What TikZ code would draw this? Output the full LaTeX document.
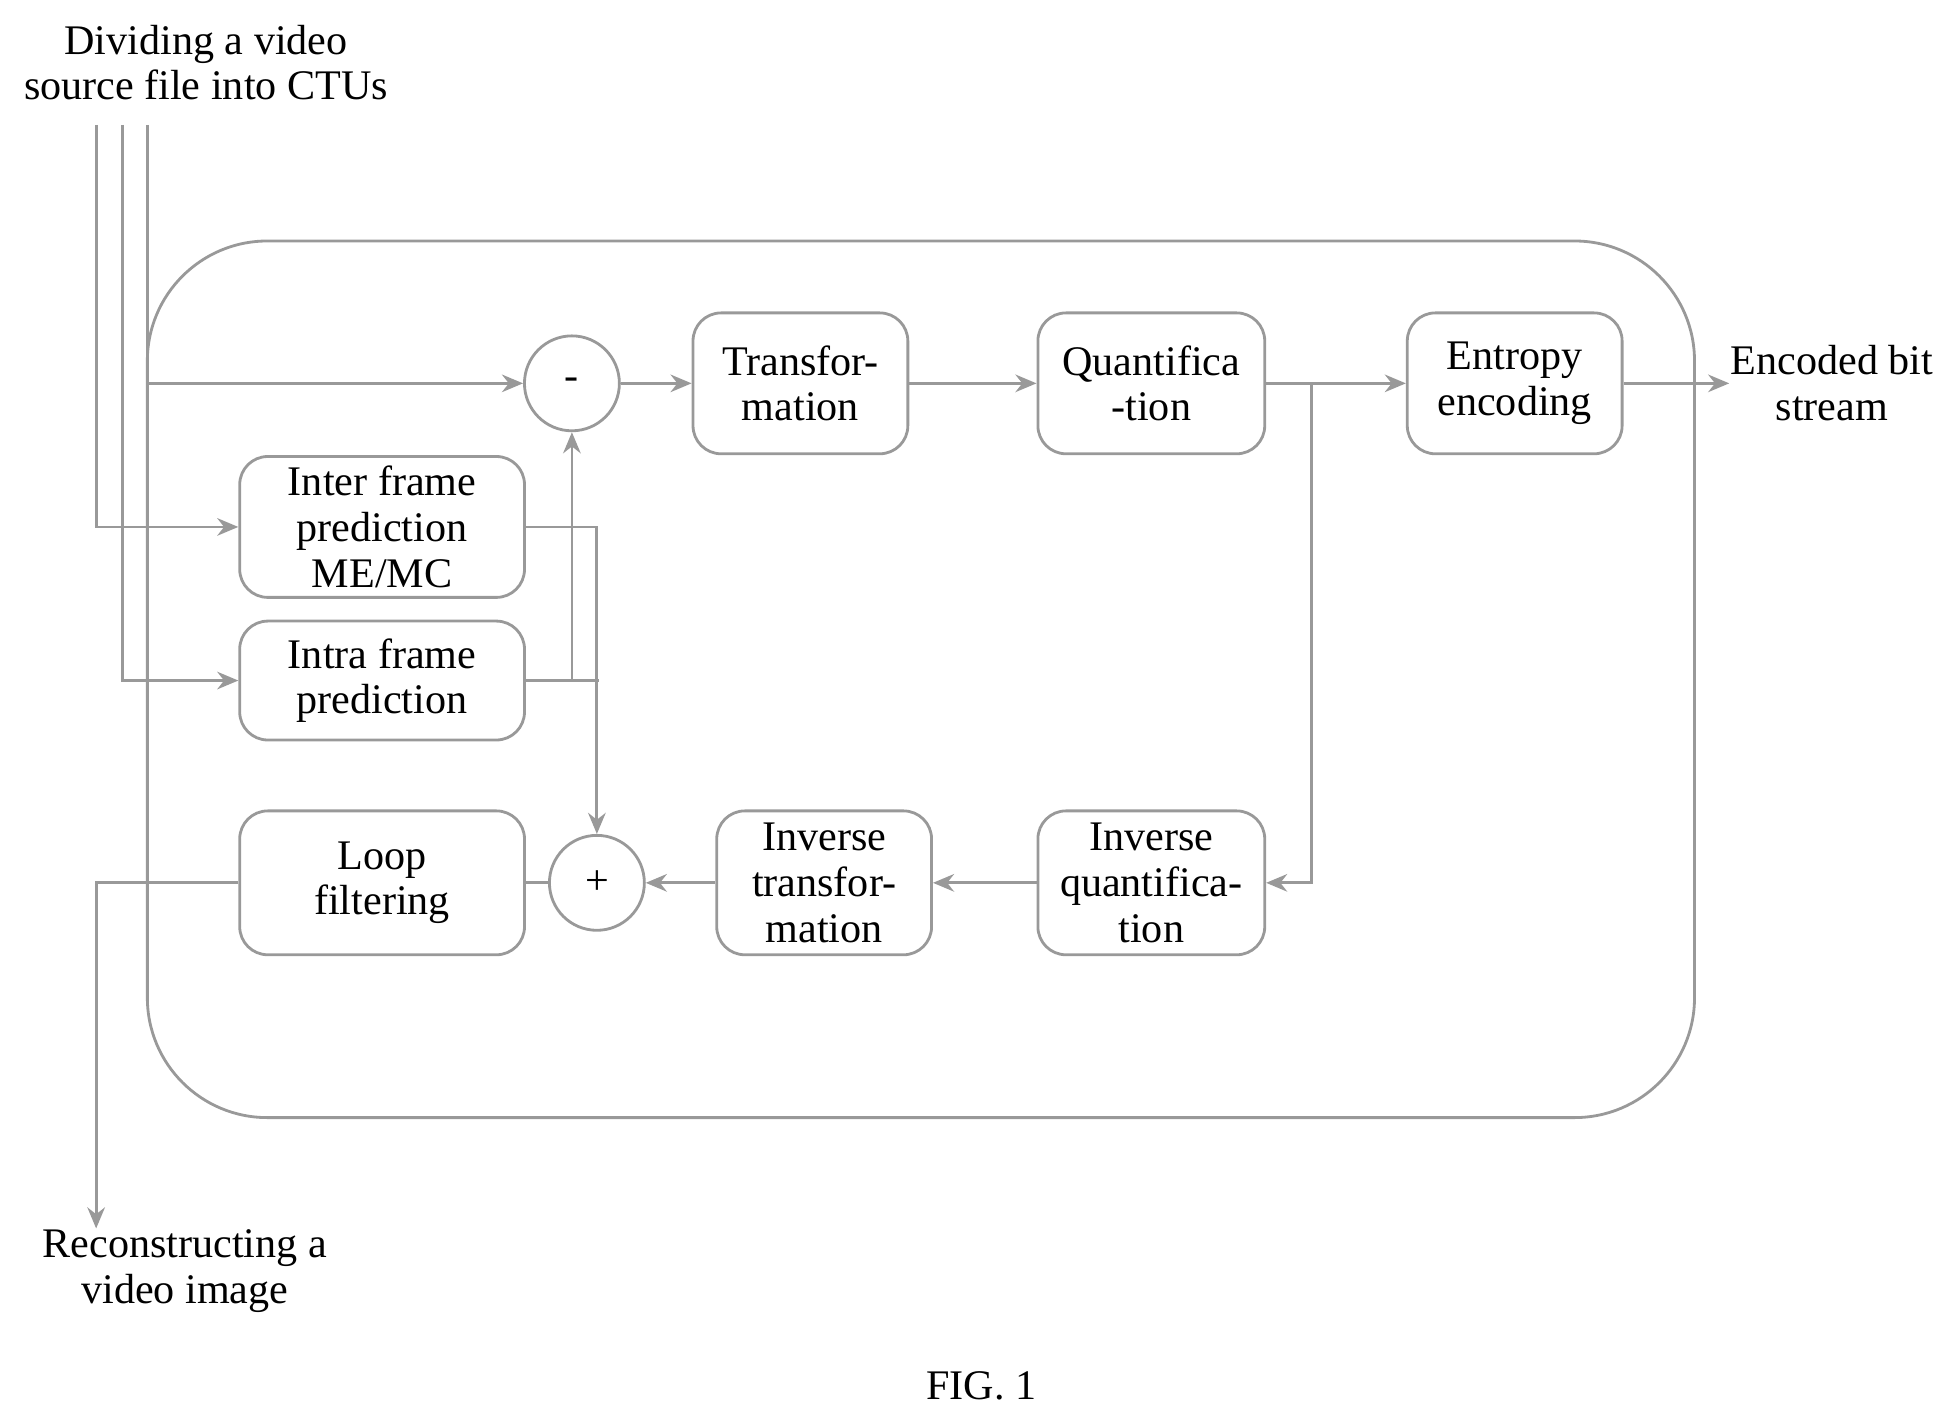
\documentclass[tikz,border=0pt]{standalone}
\usepackage{fontspec}
\setmainfont{Liberation Serif}
\usetikzlibrary{arrows.meta, positioning}

\begin{document}
\begin{tikzpicture}[x=0.0125cm, y=-0.0125cm, line width=0.8pt, draw=gray!80,
	font=\fontsize{12}{13}\selectfont,
	box/.style={draw=gray!80, rounded corners=8pt, align=center, inner sep=0pt},
	sum/.style={draw=gray!80, circle, minimum size=0.95cm, inner sep=0pt},
	txt/.style={align=center, inner sep=0pt},
	>={Stealth[length=6pt, width=5pt]}]
	\useasboundingbox (0,0) rectangle (1568,1140);
	% outer frame
	\draw[gray!80, rounded corners=1.2cm] (118,193) rectangle (1357,895);
	% text
	\node[txt] (src)  at (165,50)   {Dividing a video\\source file into CTUs};
	\node[txt] (out)  at (1467,307) {Encoded bit\\stream};
	\node[txt] (rec)  at (148,1018) {Reconstructing a\\video image};
	\node[txt] (fig)  at (786,1110) {FIG. 1};
	% blocks
	\node[sum] (minus) at (458,307) {-};
	\node[box, minimum width=2.15cm, minimum height=1.41cm] (trans) at (641,307) {Transfor-\\mation};
	\node[box, minimum width=2.27cm, minimum height=1.41cm] (quant) at (922,307) {Quantifica\\-tion};
	\node[box, minimum width=2.15cm, minimum height=1.41cm] (entr)  at (1213,307) {Entropy\\encoding};
	\node[box, minimum width=2.85cm, minimum height=1.41cm] (inter) at (306,422) {Inter frame\\prediction\\ME/MC};
	\node[box, minimum width=2.85cm, minimum height=1.19cm] (intra) at (306,545) {Intra frame\\prediction};
	\node[box, minimum width=2.85cm, minimum height=1.44cm] (loop)  at (306,707) {Loop\\filtering};
	\node[sum] (plus) at (478,707) {+};
	\node[box, minimum width=2.15cm, minimum height=1.44cm] (itrans) at (660,707) {Inverse\\transfor-\\mation};
	\node[box, minimum width=2.27cm, minimum height=1.44cm] (iquant) at (922,707) {Inverse\\quantifica-\\tion};
	\coordinate (br) at (1050,307);
	\coordinate (in1) at (77,100);
	\coordinate (in2) at (98,100);
	\coordinate (in3) at (118,100);
	% connectors
	\draw[->] (in1) |- (inter);
	\draw[->] (in2) |- (intra);
	\draw[->] (in3) |- (minus);
	\draw[->] (minus) -- (trans);
	\draw[->] (trans) -- (quant);
	\draw[->] (quant) -- (entr);
	\draw[->] (entr) -- (out.west);
	\draw[->] (br) |- (iquant);
	\draw[->] (intra.east) -| (minus);
	\draw (intra.east) -- (480,545);
	\draw[->] (inter.east) -| (plus);
	\draw[->] (iquant) -- (itrans);
	\draw[->] (itrans) -- (plus);
	\draw (plus) -- (loop);
	\draw[->] (loop.west) -| (rec.north -| in1);
\end{tikzpicture}
\end{document}
